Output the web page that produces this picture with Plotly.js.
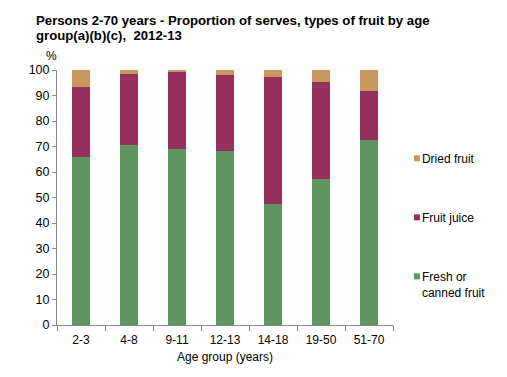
<!DOCTYPE html>
<html>
<head>
<meta charset="utf-8">
<script src="https://cdn.plot.ly/plotly-3.0.1.min.js"></script>
<style>html,body{margin:0;padding:0;background:#fff}#chart{width:507px;height:377px}</style>
</head>
<body>
<div id="chart"></div>
<script>
const categories = ["2-3", "4-8", "9-11", "12-13", "14-18", "19-50", "51-70"];
const freshOrCanned = [66.0, 70.6, 68.9, 68.4, 47.3, 57.1, 72.6];
const fruitJuice = [27.3, 27.8, 30.3, 29.6, 50.0, 38.2, 19.2];
const driedFruit = [6.7, 1.6, 0.8, 2.0, 2.7, 4.7, 8.2];
const seriesNames = ["Fresh or<br>canned fruit", "Fruit juice", "Dried fruit"];
const seriesColors = ["#5E9660", "#96305E", "#C9965E"];
const legendRanks = [3, 2, 1];

const values = [freshOrCanned, fruitJuice, driedFruit];
const traces = values.map((v, i) => ({
  type: "bar",
  x: categories,
  y: v,
  name: seriesNames[i],
  legendgroup: "g" + i,
  legendrank: legendRanks[i],
  marker: {color: seriesColors[i], line: {width: 0}},
  hoverinfo: "x+y+name"
}));

const font = "Liberation Sans, Arial, sans-serif";
const layout = {
  width: 507, height: 377,
  margin: {l: 57, r: 114, t: 70, b: 52},
  paper_bgcolor: "#fff", plot_bgcolor: "#fff",
  barmode: "stack",
  bargap: 0.61,
  font: {family: font, size: 12, color: "#000"},
  title: {
    text: "<b>Persons 2-70 years - Proportion of serves, types of fruit by age<br>group(a)(b)(c),  2012-13</b>",
    font: {family: font, size: 13.2, color: "#000"},
    x: 36 / 507, xanchor: "left", xref: "container",
    y: 1 - 25 / 377, yanchor: "top", yref: "container"
  },
  xaxis: {
    type: "category",
    showline: true, linecolor: "#888", linewidth: 1,
    ticks: "outside", tickson: "boundaries", ticklen: 5, tickcolor: "#888",
    ticklabelstandoff: 4,
    showgrid: false, zeroline: false,
    tickfont: {size: 12, color: "#000"},
    title: {text: "Age group (years)", font: {size: 12, color: "#000"}, standoff: 6}
  },
  yaxis: {
    range: [0, 100], dtick: 10, autorange: false,
    showline: true, linecolor: "#888", linewidth: 1,
    ticks: "outside", ticklen: 4, tickcolor: "#888",
    showgrid: false, zeroline: false,
    tickfont: {size: 12.5, color: "#000"}
  },
  legend: {
    x: 0.967, xanchor: "left", y: 0.39, yanchor: "middle",
    traceorder: "grouped",
    tracegroupgap: 40,
    valign: "top",
    font: {size: 12, color: "#000"},
    itemwidth: 30
  },
  annotations: [{
    text: "%", xref: "paper", yref: "paper", x: -0.015, y: 1.02,
    xanchor: "center", yanchor: "bottom", showarrow: false,
    font: {size: 12, color: "#000"}
  }]
};

const gd = document.getElementById("chart");
function tweak() {
  gd.querySelectorAll(".legend .traces").forEach(tr => {
    const txt = tr.querySelector("text.legendtext");
    const p = tr.querySelector(".legendpoints path");
    if (!txt || !p) return;
    const tx = parseFloat(txt.getAttribute("x")) || 40;
    p.setAttribute("d", "M3,3H-3V-3H3Z");
    p.setAttribute("transform", "translate(" + (tx - 5) + ",0)");
  });
  const lines = gd.querySelectorAll(".gtitle tspan.line");
  if (lines.length > 1) lines[1].setAttribute("dy", "14.5px");
}
Plotly.newPlot(gd, traces, layout, {displayModeBar: false, staticPlot: true}).then(tweak);
</script>
</body>
</html>
